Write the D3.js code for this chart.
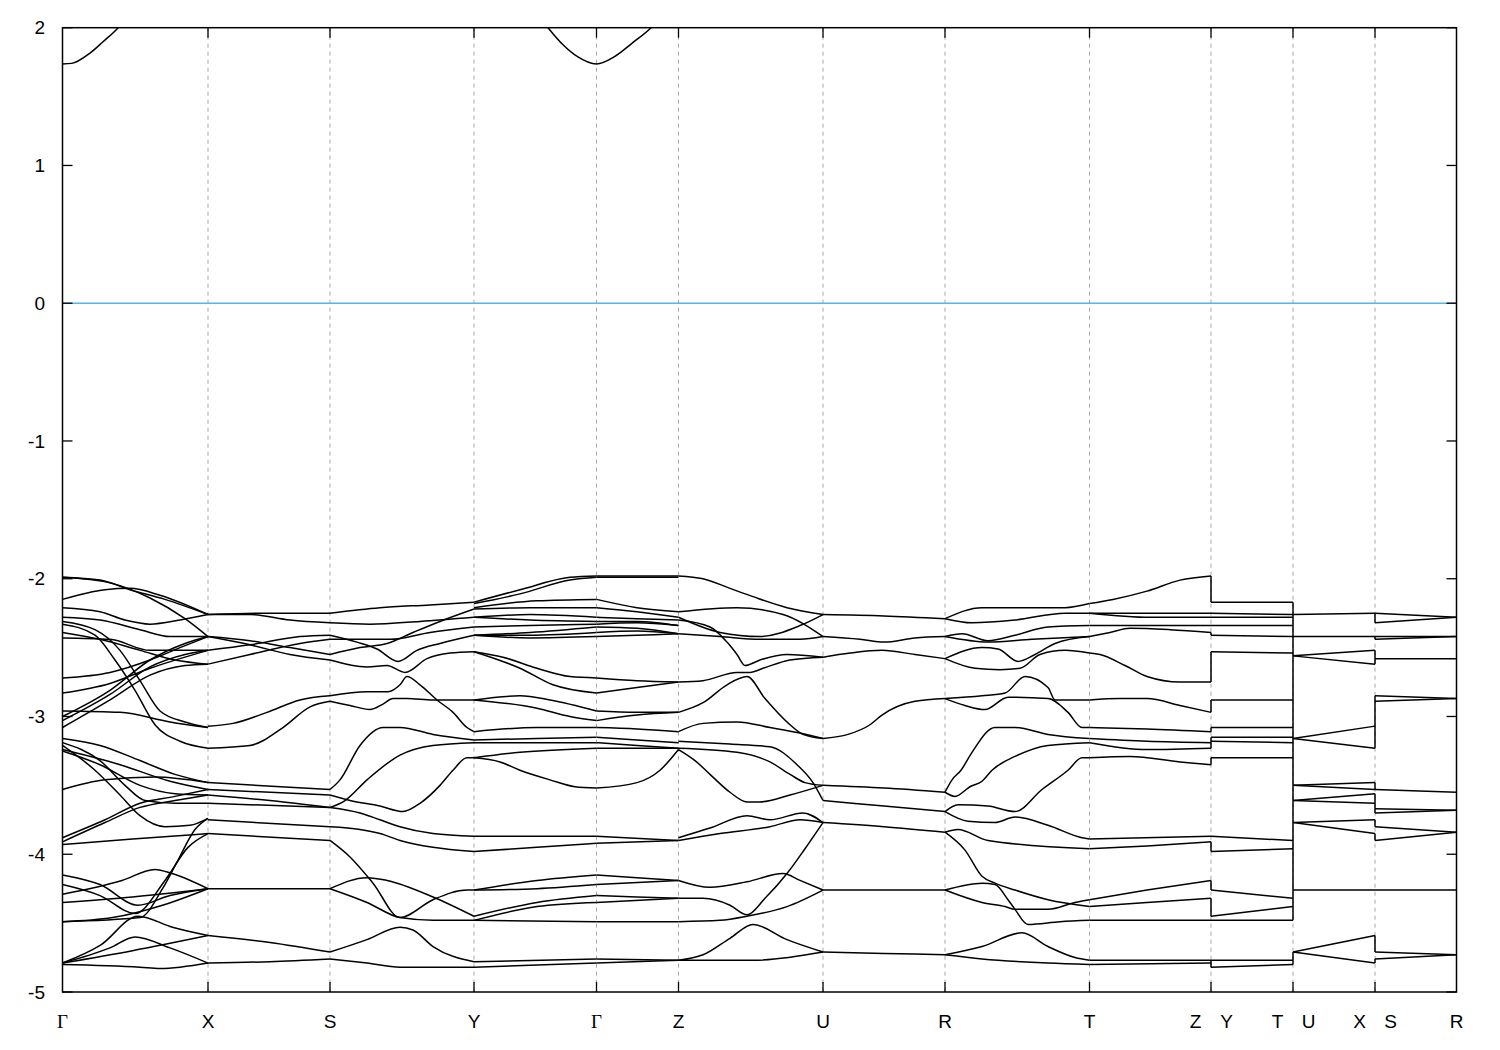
<!DOCTYPE html>
<html><head><meta charset="utf-8">
<script src="https://cdn.jsdelivr.net/npm/d3@7"></script>
<style>html,body{margin:0;padding:0;background:#fff;} svg{display:block;}</style>
</head><body>
<svg id="chart" width="1500" height="1050"></svg>
<script>
// ---- high-symmetry path (k-distance, arbitrary units) ----
const kTicks  = [0, 1.455, 2.675, 4.115, 5.34, 6.16, 7.605, 8.825, 10.27, 11.485, 12.305, 13.125, 13.94];
const kLabels = ["Γ","X","S","Y","Γ","Z","U","R","T","Z|Y","T|U","X|S","R"];
const yTicks  = [2, 1, 0, -1, -2, -3, -4, -5];

// ---- conduction band (clipped at 2 eV) ----
const conduction = [
  [[0,1.737],[0.092,1.741],[0.272,1.814],[0.405,1.898],[0.55,1.995],[0.70,2.13]],
  [[4.70,2.14],[4.855,2.0],[5.00,1.88],[5.15,1.79],[5.34,1.737],[5.52,1.79],[5.70,1.89],[5.885,2.0],[6.04,2.13]]
];

// ---- valence bands, one array of [k, E] lines per path segment ----
const segGX = [
  [[0,-1.99],[0.375,-2.01],[0.675,-2.08],[1.025,-2.15],[1.455,-2.26]],
  [[0,-1.99],[0.475,-2.03],[0.875,-2.14],[1.225,-2.29],[1.455,-2.42]],
  [[0,-2.15],[0.425,-2.08],[0.675,-2.07],[0.975,-2.12],[1.455,-2.26]],
  [[0,-2.21],[0.375,-2.24],[0.625,-2.30],[0.875,-2.33],[1.175,-2.30],[1.455,-2.26]],
  [[0,-2.28],[0.375,-2.30],[0.775,-2.37],[1.075,-2.42],[1.455,-2.42]],
  [[0,-2.31],[0.325,-2.37],[0.575,-2.52],[0.775,-2.74],[0.975,-2.96],[1.225,-3.04],[1.455,-3.08]],
  [[0,-2.33],[0.325,-2.41],[0.525,-2.59],[0.725,-2.81],[0.925,-3.06],[1.175,-3.18],[1.455,-3.23]],
  [[0,-2.39],[0.375,-2.44],[0.775,-2.52],[1.125,-2.59],[1.455,-2.62]],
  [[0,-2.43],[0.475,-2.44],[0.875,-2.52],[1.175,-2.52],[1.455,-2.52]],
  [[0,-2.72],[0.475,-2.68],[0.875,-2.59],[1.175,-2.50],[1.455,-2.42]],
  [[0,-2.83],[0.475,-2.76],[0.875,-2.65],[1.455,-2.52]],
  [[0,-2.96],[0.575,-2.97],[1.075,-3.04],[1.455,-3.08]],
  [[0,-3.00],[0.475,-2.81],[0.875,-2.59],[1.225,-2.47],[1.455,-2.42]],
  [[0,-3.03],[0.475,-2.84],[0.875,-2.64],[1.225,-2.55],[1.455,-2.52]],
  [[0,-3.08],[0.475,-2.88],[0.875,-2.70],[1.225,-2.63],[1.455,-2.62]],
  [[0,-3.16],[0.375,-3.21],[0.775,-3.32],[1.125,-3.42],[1.455,-3.48]],
  [[0,-3.19],[0.375,-3.32],[0.625,-3.50],[0.825,-3.61],[1.125,-3.63],[1.455,-3.63]],
  [[0,-3.21],[0.325,-3.39],[0.575,-3.57],[0.775,-3.72],[1.025,-3.80],[1.275,-3.79],[1.455,-3.74]],
  [[0,-3.25],[0.375,-3.35],[0.775,-3.50],[1.125,-3.56],[1.455,-3.57]],
  [[0,-3.24],[0.575,-3.35],[1.075,-3.47],[1.455,-3.53]],
  [[0,-3.53],[0.425,-3.46],[0.925,-3.44],[1.455,-3.48]],
  [[0,-3.91],[0.425,-3.77],[0.775,-3.66],[1.125,-3.61],[1.455,-3.57]],
  [[0,-3.88],[0.425,-3.75],[0.775,-3.63],[1.125,-3.58],[1.455,-3.53]],
  [[0,-3.93],[0.7,-3.89],[1.455,-3.85]],
  [[0,-4.15],[0.375,-4.22],[0.755,-4.37],[1.075,-4.30],[1.455,-4.25]],
  [[0,-4.22],[0.375,-4.30],[0.725,-4.43],[1.025,-4.19],[1.255,-3.95],[1.455,-3.85]],
  [[0,-4.29],[0.595,-4.19],[0.925,-4.11],[1.095,-4.14],[1.455,-4.25]],
  [[0,-4.35],[0.7,-4.31],[1.455,-4.25]],
  [[0,-4.49],[0.5,-4.46],[1.0,-4.37],[1.455,-4.25]],
  [[0,-4.49],[0.775,-4.46],[1.0,-4.25],[1.15,-4.05],[1.325,-3.82],[1.455,-3.74]],
  [[0,-4.79],[0.38,-4.66],[0.755,-4.45],[1.1,-4.53],[1.455,-4.59]],
  [[0,-4.79],[0.475,-4.68],[0.725,-4.60],[1.075,-4.68],[1.455,-4.79]],
  [[0,-4.80],[0.775,-4.82],[0.975,-4.83],[1.455,-4.79]],
  [[0,-4.79],[0.7,-4.70],[1.455,-4.59]]
];
const segXS = [
  [[1.455,-2.26],[2.0,-2.25],[2.675,-2.25]],
  [[1.455,-2.26],[1.875,-2.26],[2.275,-2.30],[2.675,-2.32]],
  [[1.455,-2.42],[1.875,-2.45],[2.275,-2.50],[2.675,-2.55]],
  [[1.455,-2.52],[1.875,-2.48],[2.375,-2.42],[2.675,-2.41]],
  [[1.455,-2.62],[1.875,-2.55],[2.375,-2.47],[2.675,-2.44]],
  [[1.455,-2.42],[1.875,-2.48],[2.275,-2.55],[2.675,-2.59]],
  [[1.455,-3.07],[1.705,-3.05],[2.045,-2.97],[2.375,-2.88],[2.675,-2.85]],
  [[1.455,-3.23],[1.875,-3.21],[2.205,-3.08],[2.475,-2.93],[2.675,-2.89]],
  [[1.455,-3.48],[2.675,-3.53]],
  [[1.455,-3.53],[2.675,-3.57]],
  [[1.455,-3.57],[2.075,-3.61],[2.675,-3.66]],
  [[1.455,-3.63],[2.675,-3.66]],
  [[1.455,-3.75],[2.675,-3.80]],
  [[1.455,-3.85],[2.675,-3.90]],
  [[1.455,-4.25],[2.675,-4.25]],
  [[1.455,-4.59],[2.075,-4.64],[2.675,-4.71]],
  [[1.455,-4.79],[2.075,-4.78],[2.675,-4.76]]
];
const segSY = [
  [[2.675,-2.25],[3.175,-2.21],[3.675,-2.19],[4.115,-2.17]],
  [[2.675,-2.32],[3.075,-2.33],[3.575,-2.31],[4.115,-2.28]],
  [[2.675,-2.41],[2.945,-2.46],[3.145,-2.51],[3.355,-2.60],[3.545,-2.52],[3.775,-2.47],[4.115,-2.41]],
  [[2.675,-2.44],[3.275,-2.44],[3.675,-2.39],[4.115,-2.35]],
  [[2.675,-2.55],[2.975,-2.50],[3.245,-2.47],[3.505,-2.39],[3.775,-2.31],[4.115,-2.22]],
  [[2.675,-2.59],[3.045,-2.64],[3.245,-2.63],[3.425,-2.68],[3.645,-2.58],[3.875,-2.54],[4.115,-2.53]],
  [[2.675,-2.85],[3.045,-2.82],[3.255,-2.82],[3.375,-2.77],[3.445,-2.71],[3.575,-2.77],[3.745,-2.88],[3.905,-2.97],[4.045,-3.08],[4.115,-3.11]],
  [[2.675,-2.89],[2.875,-2.92],[3.075,-2.95],[3.205,-2.91],[3.305,-2.87],[3.445,-2.87],[3.705,-2.88],[4.115,-2.88]],
  [[2.675,-3.53],[2.775,-3.46],[2.975,-3.21],[3.205,-3.08],[3.375,-3.08],[3.705,-3.13],[4.115,-3.17]],
  [[2.675,-3.66],[2.825,-3.61],[3.045,-3.46],[3.375,-3.28],[3.705,-3.21],[4.115,-3.19]],
  [[2.675,-3.57],[2.875,-3.61],[3.175,-3.65],[3.405,-3.69],[3.575,-3.63],[3.775,-3.50],[3.905,-3.39],[4.045,-3.30],[4.115,-3.30]],
  [[2.675,-3.66],[2.975,-3.70],[3.175,-3.75],[3.375,-3.80],[3.705,-3.85],[4.115,-3.87]],
  [[2.675,-3.80],[2.975,-3.82],[3.175,-3.85],[3.375,-3.90],[3.705,-3.95],[4.115,-3.98]],
  [[2.675,-3.90],[2.875,-4.02],[3.105,-4.21],[3.375,-4.46],[3.705,-4.33],[4.045,-4.26],[4.115,-4.26]],
  [[2.675,-4.25],[3.045,-4.17],[3.245,-4.19],[3.705,-4.31],[4.115,-4.45]],
  [[2.675,-4.25],[3.045,-4.35],[3.375,-4.46],[3.705,-4.48],[4.115,-4.48]],
  [[2.675,-4.71],[3.045,-4.62],[3.375,-4.53],[3.505,-4.55],[3.705,-4.67],[4.115,-4.78]],
  [[2.675,-4.76],[3.045,-4.79],[3.375,-4.82],[4.115,-4.82]]
];
const segYG = [
  [[4.115,-2.17],[4.575,-2.08],[5.075,-1.99],[5.34,-1.98]],
  [[4.115,-2.18],[4.575,-2.11],[5.075,-2.01],[5.34,-1.99]],
  [[4.115,-2.21],[4.745,-2.16],[5.34,-2.15]],
  [[4.115,-2.22],[4.675,-2.21],[5.34,-2.21]],
  [[4.115,-2.28],[4.675,-2.26],[5.34,-2.28]],
  [[4.115,-2.28],[4.675,-2.30],[5.34,-2.31]],
  [[4.115,-2.35],[4.675,-2.34],[5.34,-2.33]],
  [[4.115,-2.41],[4.675,-2.39],[5.34,-2.35]],
  [[4.115,-2.41],[4.675,-2.41],[5.34,-2.39]],
  [[4.115,-2.41],[4.675,-2.43],[5.34,-2.42]],
  [[4.115,-2.53],[4.405,-2.57],[4.745,-2.65],[5.075,-2.71],[5.34,-2.72]],
  [[4.115,-2.53],[4.575,-2.65],[4.905,-2.77],[5.34,-2.83]],
  [[4.115,-2.88],[4.575,-2.85],[4.875,-2.88],[5.34,-2.96]],
  [[4.115,-2.88],[4.745,-2.94],[5.075,-3.00],[5.34,-3.03]],
  [[4.115,-3.11],[4.745,-3.08],[5.34,-3.08]],
  [[4.115,-3.17],[4.745,-3.16],[5.34,-3.15]],
  [[4.115,-3.19],[4.745,-3.19],[5.34,-3.19]],
  [[4.115,-3.30],[4.575,-3.26],[5.34,-3.23]],
  [[4.115,-3.30],[4.375,-3.33],[4.575,-3.39],[4.875,-3.46],[5.125,-3.51],[5.34,-3.52]],
  [[4.115,-3.87],[4.745,-3.87],[5.34,-3.87]],
  [[4.115,-3.98],[4.745,-3.95],[5.34,-3.92]],
  [[4.115,-4.26],[4.745,-4.19],[5.34,-4.15]],
  [[4.115,-4.26],[4.745,-4.25],[5.34,-4.22]],
  [[4.115,-4.45],[4.745,-4.35],[5.34,-4.30]],
  [[4.115,-4.48],[4.745,-4.38],[5.34,-4.35]],
  [[4.115,-4.48],[5.34,-4.49]],
  [[4.115,-4.78],[5.34,-4.76]],
  [[4.115,-4.82],[5.34,-4.79]]
];
const segGZ = [
  [[5.34,-1.98],[6.16,-1.98]],
  [[5.34,-1.99],[5.75,-1.99],[6.16,-1.99]],
  [[5.34,-2.15],[5.745,-2.21],[6.16,-2.24]],
  [[5.34,-2.21],[5.745,-2.24],[6.16,-2.28]],
  [[5.34,-2.28],[5.745,-2.29],[6.16,-2.30]],
  [[5.34,-2.31],[5.745,-2.31],[6.16,-2.34]],
  [[5.34,-2.33],[5.745,-2.32],[6.16,-2.34]],
  [[5.34,-2.35],[5.745,-2.36],[6.16,-2.40]],
  [[5.34,-2.39],[5.745,-2.38],[6.16,-2.40]],
  [[5.34,-2.42],[5.745,-2.41],[6.16,-2.40]],
  [[5.34,-2.72],[5.745,-2.74],[6.16,-2.75]],
  [[5.34,-2.83],[5.745,-2.79],[6.16,-2.75]],
  [[5.34,-2.96],[5.745,-2.97],[6.16,-2.97]],
  [[5.34,-3.03],[5.745,-2.99],[6.16,-2.97]],
  [[5.34,-3.08],[5.745,-3.09],[6.16,-3.11]],
  [[5.34,-3.15],[5.745,-3.17],[6.16,-3.19]],
  [[5.34,-3.19],[5.745,-3.21],[6.16,-3.23]],
  [[5.34,-3.23],[5.745,-3.23],[6.16,-3.23]],
  [[5.34,-3.52],[5.745,-3.48],[5.975,-3.39],[6.16,-3.24]],
  [[5.34,-3.87],[6.16,-3.90]],
  [[5.34,-3.92],[6.16,-3.90]],
  [[5.34,-4.15],[5.745,-4.17],[6.16,-4.19]],
  [[5.34,-4.22],[6.16,-4.19]],
  [[5.34,-4.30],[5.745,-4.31],[6.16,-4.32]],
  [[5.34,-4.35],[6.16,-4.32]],
  [[5.34,-4.49],[6.16,-4.49]],
  [[5.34,-4.76],[6.16,-4.77]],
  [[5.34,-4.79],[6.16,-4.77]]
];
const segZU = [
  [[6.16,-1.98],[6.405,-2.00],[6.675,-2.07],[6.905,-2.13],[7.245,-2.21],[7.605,-2.26]],
  [[6.16,-2.24],[6.745,-2.21],[7.205,-2.26],[7.605,-2.42]],
  [[6.16,-2.28],[6.575,-2.39],[6.975,-2.42],[7.375,-2.34],[7.605,-2.26]],
  [[6.16,-2.30],[6.475,-2.35],[6.645,-2.46],[6.745,-2.55],[6.825,-2.63],[6.975,-2.59],[7.245,-2.55],[7.605,-2.57]],
  [[6.16,-2.75],[6.405,-2.74],[6.745,-2.68],[6.875,-2.68],[7.005,-2.65],[7.275,-2.59],[7.605,-2.57]],
  [[6.16,-2.97],[6.405,-2.90],[6.645,-2.77],[6.845,-2.71],[7.025,-2.87],[7.275,-3.06],[7.405,-3.13],[7.605,-3.16]],
  [[6.16,-3.11],[6.405,-3.05],[6.745,-3.04],[7.075,-3.08],[7.375,-3.12],[7.605,-3.16]],
  [[6.16,-2.40],[6.575,-2.42],[6.975,-2.44],[7.375,-2.44],[7.605,-2.42]],
  [[6.16,-3.18],[6.675,-3.20],[7.075,-3.22],[7.345,-3.35],[7.505,-3.48],[7.605,-3.61]],
  [[6.16,-3.23],[6.745,-3.26],[7.075,-3.33],[7.275,-3.42],[7.425,-3.48],[7.605,-3.50]],
  [[6.16,-3.24],[6.325,-3.32],[6.475,-3.42],[6.675,-3.55],[6.845,-3.62],[6.975,-3.62],[7.275,-3.57],[7.605,-3.50]],
  [[6.16,-3.88],[6.475,-3.81],[6.845,-3.72],[7.075,-3.75],[7.405,-3.70],[7.605,-3.77]],
  [[6.16,-3.90],[6.575,-3.85],[7.075,-3.80],[7.375,-3.75],[7.605,-3.77]],
  [[6.16,-4.19],[6.475,-4.24],[6.845,-4.20],[7.205,-4.14],[7.375,-4.19],[7.605,-4.26]],
  [[6.16,-4.32],[6.405,-4.32],[6.675,-4.37],[6.845,-4.44],[7.025,-4.32],[7.245,-4.14],[7.425,-3.96],[7.605,-3.77]],
  [[6.16,-4.49],[6.575,-4.48],[6.845,-4.45],[7.245,-4.38],[7.605,-4.26]],
  [[6.16,-4.77],[6.405,-4.73],[6.675,-4.61],[6.905,-4.51],[7.245,-4.62],[7.605,-4.71]],
  [[6.16,-4.77],[6.905,-4.77],[7.605,-4.71]]
];
const segUR = [
  [[7.605,-2.26],[8.215,-2.27],[8.825,-2.29]],
  [[7.605,-2.42],[7.975,-2.44],[8.215,-2.46],[8.525,-2.43],[8.825,-2.42]],
  [[7.605,-2.57],[7.875,-2.54],[8.195,-2.52],[8.525,-2.55],[8.825,-2.58]],
  [[7.605,-3.16],[7.855,-3.13],[8.075,-3.06],[8.195,-2.99],[8.525,-2.89],[8.825,-2.87]],
  [[7.605,-3.50],[8.215,-3.52],[8.825,-3.55]],
  [[7.605,-3.61],[8.215,-3.65],[8.825,-3.69]],
  [[7.605,-3.77],[8.215,-3.80],[8.825,-3.84]],
  [[7.605,-4.26],[8.825,-4.26]],
  [[7.605,-4.71],[8.215,-4.72],[8.825,-4.73]]
];
const segRT = [
  [[8.825,-2.29],[9.195,-2.21],[9.695,-2.21],[10.025,-2.21],[10.27,-2.18]],
  [[8.825,-2.29],[9.095,-2.32],[9.525,-2.30],[10.025,-2.25],[10.27,-2.25]],
  [[8.825,-2.42],[8.995,-2.40],[9.255,-2.45],[9.525,-2.41],[9.855,-2.35],[10.27,-2.34]],
  [[8.825,-2.42],[9.255,-2.46],[9.695,-2.44],[10.27,-2.42]],
  [[8.825,-2.58],[9.195,-2.50],[9.355,-2.51],[9.555,-2.60],[9.725,-2.55],[9.925,-2.47],[10.27,-2.42]],
  [[8.825,-2.58],[9.125,-2.65],[9.375,-2.66],[9.575,-2.65],[9.775,-2.55],[10.025,-2.52],[10.27,-2.54]],
  [[8.825,-2.87],[9.195,-2.85],[9.425,-2.83],[9.625,-2.71],[9.855,-2.79],[9.925,-2.88],[10.27,-2.88]],
  [[8.825,-2.87],[9.025,-2.92],[9.225,-2.95],[9.455,-2.86],[9.855,-2.87],[10.055,-2.97],[10.195,-3.08],[10.27,-3.08]],
  [[8.825,-3.55],[8.895,-3.46],[8.985,-3.39],[9.095,-3.26],[9.325,-3.08],[9.525,-3.08],[9.855,-3.13],[10.27,-3.16]],
  [[8.825,-3.55],[8.925,-3.58],[9.075,-3.51],[9.195,-3.47],[9.295,-3.39],[9.525,-3.29],[9.855,-3.21],[10.27,-3.19]],
  [[8.825,-3.69],[8.955,-3.64],[9.255,-3.65],[9.525,-3.69],[9.795,-3.53],[10.055,-3.39],[10.195,-3.30],[10.27,-3.30]],
  [[8.825,-3.69],[9.055,-3.76],[9.325,-3.77],[9.525,-3.73],[9.855,-3.79],[10.195,-3.88],[10.27,-3.89]],
  [[8.825,-3.84],[8.955,-3.82],[9.255,-3.90],[10.27,-3.96]],
  [[8.825,-3.84],[9.025,-3.97],[9.195,-4.16],[9.325,-4.21],[9.525,-4.26],[9.855,-4.33],[10.27,-4.38]],
  [[8.825,-4.26],[9.195,-4.21],[9.325,-4.22],[9.455,-4.33],[9.525,-4.40],[9.655,-4.51],[9.975,-4.49],[10.27,-4.48]],
  [[8.825,-4.26],[9.195,-4.35],[9.425,-4.38],[9.525,-4.40],[9.855,-4.40],[10.125,-4.35],[10.27,-4.33]],
  [[8.825,-4.73],[9.195,-4.67],[9.595,-4.57],[9.855,-4.67],[10.125,-4.75],[10.27,-4.77]],
  [[8.825,-4.73],[9.195,-4.76],[9.855,-4.79],[10.27,-4.80]]
];
const segTZ = [
  [[10.27,-2.18],[10.505,-2.15],[10.845,-2.09],[11.175,-2.01],[11.485,-1.98]],
  [[10.27,-2.25],[11.485,-2.25]],
  [[10.27,-2.25],[10.875,-2.28],[11.485,-2.28]],
  [[10.27,-2.34],[10.875,-2.34],[11.485,-2.34]],
  [[10.27,-2.42],[10.475,-2.39],[10.675,-2.36],[11.075,-2.37],[11.485,-2.39]],
  [[10.27,-2.54],[10.375,-2.55],[10.625,-2.63],[10.845,-2.71],[11.175,-2.75],[11.485,-2.75]],
  [[10.27,-2.88],[10.575,-2.87],[10.845,-2.87],[11.175,-2.92],[11.485,-2.97]],
  [[10.27,-3.08],[10.845,-3.09],[11.485,-3.11]],
  [[10.27,-3.16],[10.845,-3.18],[11.485,-3.19]],
  [[10.27,-3.19],[10.845,-3.24],[11.485,-3.23]],
  [[10.27,-3.30],[10.675,-3.29],[11.175,-3.33],[11.485,-3.35]],
  [[10.27,-3.89],[11.485,-3.87]],
  [[10.27,-3.96],[10.845,-3.94],[11.485,-3.91]],
  [[10.27,-4.33],[10.845,-4.26],[11.485,-4.19]],
  [[10.27,-4.38],[10.845,-4.35],[11.485,-4.32]],
  [[10.27,-4.48],[11.485,-4.48]],
  [[10.27,-4.77],[11.485,-4.77]],
  [[10.27,-4.80],[11.485,-4.79]]
];
const segYT = [
  [[11.485,-2.17],[12.305,-2.17]],
  [[11.485,-2.25],[12.305,-2.26]],
  [[11.485,-2.28],[12.305,-2.28]],
  [[11.485,-2.34],[12.305,-2.34]],
  [[11.485,-2.41],[12.305,-2.42]],
  [[11.485,-2.53],[12.305,-2.54]],
  [[11.485,-2.88],[12.305,-2.88]],
  [[11.485,-3.08],[12.305,-3.08]],
  [[11.485,-3.15],[12.305,-3.15]],
  [[11.485,-3.18],[12.305,-3.19]],
  [[11.485,-3.30],[12.305,-3.30]],
  [[11.485,-3.87],[12.305,-3.90]],
  [[11.485,-3.98],[12.305,-3.96]],
  [[11.485,-4.26],[12.305,-4.32]],
  [[11.485,-4.45],[12.305,-4.38]],
  [[11.485,-4.48],[12.305,-4.48]],
  [[11.485,-4.77],[12.305,-4.77]],
  [[11.485,-4.82],[12.305,-4.80]]
];
const segUX = [
  [[12.305,-2.26],[13.125,-2.25]],
  [[12.305,-2.42],[13.125,-2.42]],
  [[12.305,-2.56],[13.125,-2.52]],
  [[12.305,-2.56],[13.125,-2.62]],
  [[12.305,-3.16],[13.125,-3.07]],
  [[12.305,-3.16],[13.125,-3.23]],
  [[12.305,-3.50],[13.125,-3.48]],
  [[12.305,-3.50],[13.125,-3.53]],
  [[12.305,-3.61],[13.125,-3.56]],
  [[12.305,-3.61],[13.125,-3.63]],
  [[12.305,-3.77],[13.125,-3.75]],
  [[12.305,-3.77],[13.125,-3.85]],
  [[12.305,-4.26],[13.125,-4.26]],
  [[12.305,-4.71],[13.125,-4.59]],
  [[12.305,-4.71],[13.125,-4.79]]
];
const segSR = [
  [[13.125,-2.25],[13.94,-2.28]],
  [[13.125,-2.32],[13.94,-2.28]],
  [[13.125,-2.42],[13.94,-2.42]],
  [[13.125,-2.44],[13.94,-2.42]],
  [[13.125,-2.58],[13.94,-2.58]],
  [[13.125,-2.85],[13.94,-2.87]],
  [[13.125,-2.89],[13.94,-2.87]],
  [[13.125,-3.53],[13.94,-3.55]],
  [[13.125,-3.67],[13.94,-3.68]],
  [[13.125,-3.70],[13.94,-3.68]],
  [[13.125,-3.80],[13.94,-3.84]],
  [[13.125,-3.90],[13.94,-3.84]],
  [[13.125,-4.26],[13.94,-4.26]],
  [[13.125,-4.71],[13.94,-4.73]],
  [[13.125,-4.76],[13.94,-4.73]]
];
// vertical connectors at the path discontinuities [E_from, E_to]
const jumpZY = [[-1.98,-2.17],[-2.39,-2.41],[-2.53,-2.75],[-2.88,-2.97],[-3.08,-3.11],[-3.15,-3.19],[-3.19,-3.23],[-3.30,-3.35],[-3.91,-3.98],[-4.19,-4.26],[-4.32,-4.45],[-4.77,-4.82]];
const jumpTU = [[-2.17,-4.48],[-4.71,-4.80]];
const jumpXS = [[-2.25,-2.32],[-2.42,-2.44],[-2.52,-2.62],[-2.85,-3.23],[-3.48,-3.53],[-3.56,-3.70],[-3.75,-3.80],[-3.85,-3.90],[-4.59,-4.71],[-4.76,-4.79]];

// ---- drawing ----
const x = d3.scaleLinear().domain([kTicks[0], kTicks[kTicks.length-1]]).range([62.5, 1456.5]);
const y = d3.scaleLinear().domain([-5, 2]).range([992, 27.7]);
const svg = d3.select("#chart");
const X0 = x.range()[0], X1 = x.range()[1], Y0 = y(2), Y1 = y(-5);

svg.append("defs").append("clipPath").attr("id","clip")
  .append("rect").attr("x",X0).attr("y",Y0).attr("width",X1-X0).attr("height",Y1-Y0);

// dashed grid at interior high-symmetry points
svg.append("g").selectAll("line").data(kTicks.slice(1,-1)).join("line")
  .attr("x1",d=>x(d)).attr("x2",d=>x(d)).attr("y1",Y0).attr("y2",Y1)
  .attr("stroke","#a8a8a8").attr("stroke-width",1).attr("stroke-dasharray","4,4");

// Fermi level
svg.append("line").attr("x1",X0).attr("x2",X1).attr("y1",y(0)).attr("y2",y(0))
  .attr("stroke","#56b4e9").attr("stroke-width",1.4);

const smooth = d3.line().x(d=>x(d[0])).y(d=>y(d[1])).curve(d3.curveMonotoneX);
const straight = d3.line().x(d=>x(d[0])).y(d=>y(d[1]));
const gB = svg.append("g").attr("clip-path","url(#clip)")
  .attr("fill","none").attr("stroke","#000").attr("stroke-width",1.5).attr("stroke-linejoin","round");

[conduction, segGX, segXS, segSY, segYG, segGZ, segZU, segUR, segRT, segTZ].forEach(seg => {
  gB.append("g").selectAll("path").data(seg).join("path").attr("d", smooth);
});
[segYT, segUX, segSR].forEach(seg => {
  gB.append("g").selectAll("path").data(seg).join("path").attr("d", straight);
});
[[kTicks[9], jumpZY],[kTicks[10], jumpTU],[kTicks[11], jumpXS]].forEach(([k, pairs]) => {
  gB.append("g").selectAll("line").data(pairs).join("line")
    .attr("x1",x(k)).attr("x2",x(k)).attr("y1",d=>y(d[0])).attr("y2",d=>y(d[1]));
});

// frame
svg.append("rect").attr("x",X0).attr("y",Y0).attr("width",X1-X0).attr("height",Y1-Y0)
  .attr("fill","none").attr("stroke","#000").attr("stroke-width",1.5);

// ticks
const gT = svg.append("g").attr("stroke","#000").attr("stroke-width",1.3);
gT.selectAll(".kb").data(kTicks.slice(1,-1)).join("line")
  .attr("x1",d=>x(d)).attr("x2",d=>x(d)).attr("y1",Y1).attr("y2",Y1-10);
gT.selectAll(".kt").data(kTicks.slice(1,-1)).join("line")
  .attr("x1",d=>x(d)).attr("x2",d=>x(d)).attr("y1",Y0).attr("y2",Y0+10);
gT.selectAll(".yl").data(yTicks).join("line")
  .attr("x1",X0).attr("x2",X0+10).attr("y1",d=>y(d)).attr("y2",d=>y(d));
gT.selectAll(".yr").data(yTicks).join("line")
  .attr("x1",X1).attr("x2",X1-10).attr("y1",d=>y(d)).attr("y2",d=>y(d));

// y labels
svg.append("g").selectAll("text").data(yTicks).join("text")
  .attr("x",45).attr("y",d=>y(d)).attr("dy","0.35em").attr("text-anchor","end")
  .attr("font-family","'Liberation Sans', Arial, sans-serif").attr("font-size",19)
  .text(d=>String(d));

// k labels
const labG = svg.append("g").attr("font-size",19).attr("text-anchor","middle");
kTicks.forEach((k,i) => {
  const parts = kLabels[i].split("|");
  const offs = parts.length > 1 ? [-15.5, 15.5] : [0];
  parts.forEach((p,j) => {
    labG.append("text").attr("x", x(k)+offs[j]).attr("y", 1021).attr("dy","0.35em")
      .attr("font-family", p === "Γ" ? "'Liberation Serif', 'Times New Roman', serif" : "'Liberation Sans', Arial, sans-serif")
      .text(p);
  });
});
</script>
</body></html>
